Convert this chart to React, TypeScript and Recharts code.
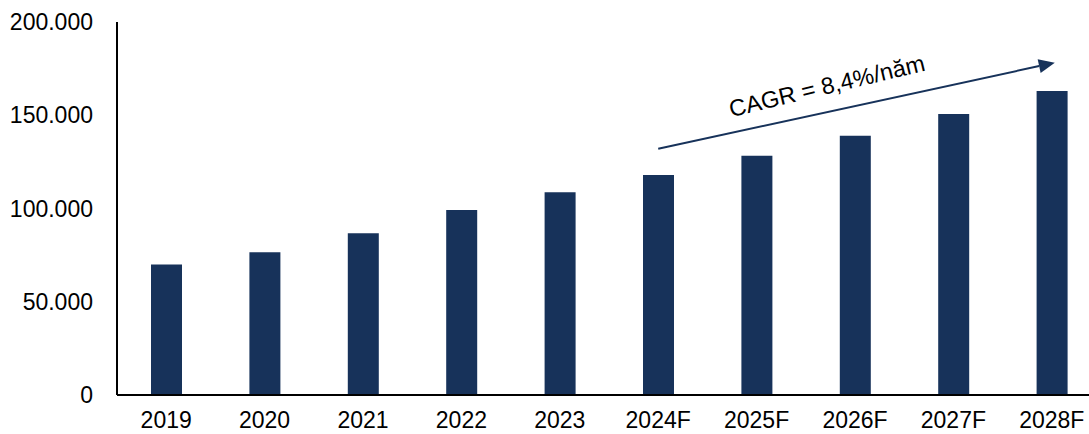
import React from 'react';
import { BarChart, Bar, XAxis, YAxis, ReferenceLine } from 'recharts';

const categories = ['2019', '2020', '2021', '2022', '2023', '2024F', '2025F', '2026F', '2027F', '2028F'];
const values = [70000, 76500, 86700, 99200, 108700, 118000, 128300, 139000, 150700, 163000];
const yTicks = [0, 50000, 100000, 150000, 200000];
const cagrLabel = 'CAGR = 8,4%/năm';
const cagrStart = { x: '2024F', y: 132000 };
const cagrEnd = { x: '2028F', y: 178200 };

const data = categories.map((c, i) => ({ year: c, value: values[i] }));

const NAVY = '#17325A';
const FONT = 'Liberation Sans, Arial, sans-serif';

const fmt = (v: number) => (v === 0 ? '0' : v.toLocaleString('de-DE'));

const ArrowShape = (props: any) => {
  const { x1, y1, x2, y2 } = props;
  if (x1 == null) return <g />;
  const ex = x2 + 3;
  const ey = y2;
  const ang = Math.atan2(ey - y1, ex - x1);
  const len = 16;
  const half = 7;
  const bx = ex - len * Math.cos(ang);
  const by = ey - len * Math.sin(ang);
  const px = -Math.sin(ang);
  const py = Math.cos(ang);
  const pts = `${ex},${ey} ${bx + px * half},${by + py * half} ${bx - px * half},${by - py * half}`;
  const tx = x1 + (ex - x1) * 0.43;
  const ty = y1 + (ey - y1) * 0.43 - 18;
  return (
    <g>
      <line x1={x1} y1={y1} x2={bx} y2={by} stroke={NAVY} strokeWidth={2} />
      <polygon points={pts} fill={NAVY} />
      <text
        x={tx}
        y={ty}
        transform={`rotate(-13.5 ${tx} ${ty})`}
        textAnchor="middle"
        fontFamily={FONT}
        fontSize={23.5}
        fill="#000"
      >
        {cagrLabel}
      </text>
    </g>
  );
};

export default function App() {
  return (
    <div style={{ position: 'fixed', left: 0, top: 0, width: 1089, height: 434, overflow: 'hidden', background: '#fff' }}>
      <BarChart width={1101} height={434} data={data} margin={{ top: 22, right: 0, bottom: 0, left: 0 }}>
        <XAxis
          dataKey="year"
          height={39}
          tickLine={false}
          tickSize={0}
          tickMargin={17}
          axisLine={{ stroke: '#000', strokeWidth: 2 }}
          tick={{ fill: '#000', fontSize: 23, fontFamily: FONT }}
          interval={0}
        />
        <YAxis
          width={117}
          domain={[0, 200000]}
          ticks={yTicks}
          tickFormatter={fmt}
          tickLine={false}
          tickSize={0}
          tickMargin={24}
          axisLine={{ stroke: '#000', strokeWidth: 2 }}
          tick={{ fill: '#000', fontSize: 23, fontFamily: FONT }}
          allowDataOverflow
        />
        <Bar dataKey="value" fill={NAVY} barSize={31} isAnimationActive={false} />
        <ReferenceLine
          segment={[cagrStart, cagrEnd]}
          ifOverflow="visible"
          shape={ArrowShape}
        />
      </BarChart>
    </div>
  );
}
